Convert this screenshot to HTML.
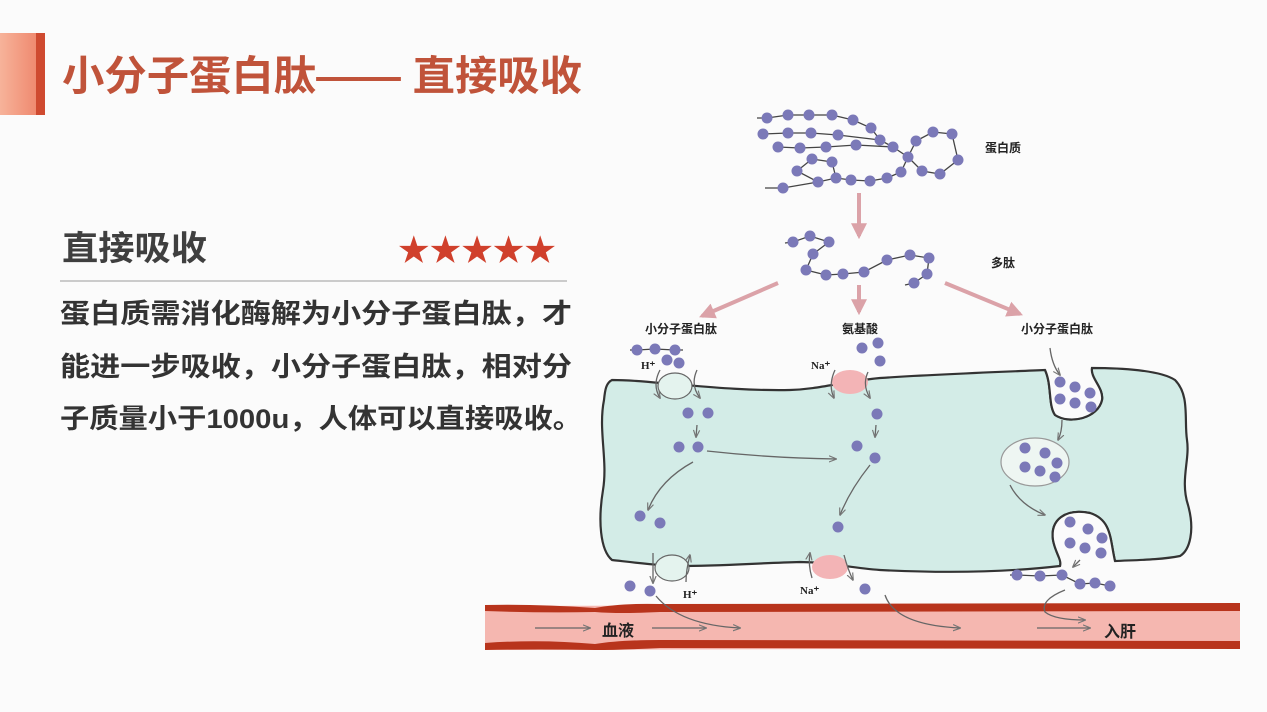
<!DOCTYPE html>
<html><head><meta charset="utf-8"><style>
html,body{margin:0;padding:0;background:#fbfbfb;}
body{width:1267px;height:712px;overflow:hidden;position:relative;font-family:"Liberation Sans","Noto Sans CJK SC",sans-serif;}
</style></head><body>
<svg width="1267" height="712" viewBox="0 0 1267 712" xmlns="http://www.w3.org/2000/svg" style="position:absolute;left:0;top:0">
<defs>
<linearGradient id="lg" x1="0" x2="1"><stop offset="0" stop-color="#f7b39a"/><stop offset="1" stop-color="#ef8a70"/></linearGradient>
<marker id="ag" viewBox="0 0 10 10" refX="9" refY="5" markerWidth="6" markerHeight="6" orient="auto"><path d="M0,1 L10,5 L0,9" fill="none" stroke="#777" stroke-width="1.5"/></marker>
<marker id="ap" viewBox="0 0 10 10" refX="8" refY="5" markerWidth="4" markerHeight="4" orient="auto"><path d="M0,0 L10,5 L0,10 z" fill="#dba2a8"/></marker>
</defs>
<rect x="0" y="33" width="36" height="82" fill="url(#lg)"/>
<rect x="36" y="33" width="9" height="82" fill="#cf4a30"/>
<text x="62" y="90" font-size="41" font-weight="bold" fill="#c0533a" textLength="520" lengthAdjust="spacingAndGlyphs">小分子蛋白肽—— 直接吸收</text>

<text x="62" y="260" font-size="34" font-weight="bold" fill="#3f3f3f" textLength="145" lengthAdjust="spacingAndGlyphs">直接吸收</text>
<text x="398" y="261" font-size="31" fill="#d0402c" textLength="158" lengthAdjust="spacingAndGlyphs">★★★★★</text>
<line x1="60" y1="281" x2="567" y2="281" stroke="#bbb" stroke-width="1.5"/>
<g font-size="27" font-weight="bold" fill="#333">
<text x="60" y="323" textLength="512" lengthAdjust="spacingAndGlyphs">蛋白质需消化酶解为小分子蛋白肽，才</text>
<text x="60" y="376" textLength="512" lengthAdjust="spacingAndGlyphs">能进一步吸收，小分子蛋白肽，相对分</text>
<text x="60" y="428" textLength="522" lengthAdjust="spacingAndGlyphs">子质量小于1000u，人体可以直接吸收。</text>
</g>

<path d="M485,606 L1240,604 L1240,648 L485,650 Z" fill="#f5b7b0"/>
<path d="M485,605 Q540,604 595,608 Q620,603 660,604 L1240,603 L1240,611 L660,612 Q620,614 595,612 Q540,613 485,611 Z" fill="#b8341c"/>
<path d="M485,643 Q540,639 595,644 Q620,640 660,640 L1240,641 L1240,649 L660,648 Q620,650 595,650 Q540,649 485,650 Z" fill="#b8341c"/>

<path d="M612,380 C630,380 650,382 660,383 C690,385 740,391 790,390 C820,389 840,382 880,378 C940,374 1000,372 1045,370 C1052,385 1048,405 1055,415 C1070,425 1098,418 1102,400 C1104,388 1090,378 1092,368 C1120,368 1160,370 1175,380 C1190,395 1184,420 1187,440 C1190,460 1180,480 1188,505 C1195,530 1190,550 1180,556 C1160,560 1135,560 1115,561 C1110,540 1112,520 1090,513 C1065,508 1050,520 1053,540 C1055,552 1062,560 1060,566 C1000,573 940,573 880,570 C850,568 830,562 800,562 C760,563 720,566 680,566 C660,566 630,562 612,560 C600,550 598,520 603,490 C608,460 598,430 604,400 C605,390 606,383 612,380 Z" fill="#d3ece7" stroke="#333" stroke-width="2.2"/>
<ellipse cx="1035" cy="462" rx="34" ry="24" fill="#eef6f2" stroke="#999" stroke-width="1.2"/>
<path d="M1053,540 C1050,520 1065,508 1090,513 C1112,520 1110,540 1115,561 L1060,566 Z" fill="#fbfbfb"/>
<path d="M1055,415 C1070,425 1098,418 1102,400 C1104,388 1090,378 1092,368 L1045,370 C1052,385 1048,405 1055,415Z" fill="#fbfbfb"/>
<path d="M1045,370 C1052,385 1048,405 1055,415 C1070,425 1098,418 1102,400 C1104,388 1090,378 1092,368" fill="none" stroke="#333" stroke-width="2.2"/>
<path d="M1060,566 C1062,560 1055,552 1053,540 C1050,520 1065,508 1090,513 C1112,520 1110,540 1115,561" fill="none" stroke="#333" stroke-width="2.2"/>
<ellipse cx="675" cy="386" rx="17" ry="13" fill="#e4f3ee" stroke="#666" stroke-width="1.2"/>
<ellipse cx="850" cy="382" rx="18" ry="12" fill="#f3b4b6"/>
<ellipse cx="672" cy="568" rx="17" ry="13" fill="#e4f3ee" stroke="#666" stroke-width="1.2"/>
<ellipse cx="830" cy="567" rx="18" ry="12" fill="#f3b4b6"/>
<g fill="none" stroke="#666" stroke-width="1.3">
<path d="M660,370 Q652,385 660,398" marker-end="url(#ag)"/><path d="M697,370 Q690,385 700,398" marker-end="url(#ag)"/>
<path d="M835,370 Q828,385 834,398" marker-end="url(#ag)"/><path d="M868,372 Q862,385 870,398" marker-end="url(#ag)"/>
<path d="M653,553 L653,583" marker-end="url(#ag)"/><path d="M686,582 Q686,570 690,555" marker-end="url(#ag)"/>
<path d="M812,578 Q808,565 810,553" marker-end="url(#ag)"/><path d="M844,555 Q848,570 853,580" marker-end="url(#ag)"/>
<path d="M697,425 L696,437" marker-end="url(#ag)"/><path d="M876,425 L875,437" marker-end="url(#ag)"/>
<path d="M707,451 Q770,458 836,459" marker-end="url(#ag)"/>
<path d="M693,462 Q660,480 648,510" marker-end="url(#ag)"/>
<path d="M870,465 Q850,490 840,515" marker-end="url(#ag)"/>
<path d="M1050,348 Q1052,365 1060,375" marker-end="url(#ag)"/>
<path d="M1062,420 Q1062,432 1058,440" marker-end="url(#ag)"/>
<path d="M1010,485 Q1020,505 1045,515" marker-end="url(#ag)"/>
<path d="M1080,560 L1073,567" marker-end="url(#ag)"/>
<path d="M656,596 Q680,625 740,628" marker-end="url(#ag)"/>
<path d="M885,595 Q895,625 960,628" marker-end="url(#ag)"/>
<path d="M1065,590 Q1040,600 1045,612 Q1055,620 1085,620" marker-end="url(#ag)"/>
<path d="M535,628 L590,628" marker-end="url(#ag)"/><path d="M652,628 L706,628" marker-end="url(#ag)"/>
<path d="M1037,628 L1090,628" marker-end="url(#ag)"/>
</g>
<g stroke="#dba2a8" stroke-width="4" marker-end="url(#ap)">
<line x1="859" y1="193" x2="859" y2="236"/>
<line x1="778" y1="283" x2="702" y2="316"/>
<line x1="859" y1="285" x2="859" y2="312"/>
<line x1="945" y1="283" x2="1020" y2="314"/>
</g>
<g fill="none" stroke="#444" stroke-width="1.3">
<polyline points="757,118 767,118 788,115 809,115 832,115 853,120 871,128 880,140 893,147 908,157 916,141 933,132 952,134 958,160 940,174 922,171 908,157 901,172 887,178 870,181 851,180 836,178 818,182 797,171 812,159 832,162 836,178"/>
<polyline points="763,134 788,133 811,133 838,135 880,140"/>
<polyline points="778,147 800,148 826,147 856,145 893,147"/>
<polyline points="765,188 783,188 818,182"/>
<polyline points="785,243 793,242 810,236 829,242 813,254 806,270 826,275 843,274 864,272 887,260 910,255 929,258 927,274 914,283 905,285"/>
<polyline points="630,350 637,350 655,349 675,350 683,350"/>
<polyline points="1017,575 1040,576 1062,575 1080,584 1095,583 1110,586"/>
<polyline points="1010,575 1017,575"/>
</g>
<g fill="#7b79b8">
<circle cx="767" cy="118" r="5.5"/><circle cx="788" cy="115" r="5.5"/><circle cx="809" cy="115" r="5.5"/><circle cx="832" cy="115" r="5.5"/><circle cx="853" cy="120" r="5.5"/><circle cx="871" cy="128" r="5.5"/>
<circle cx="763" cy="134" r="5.5"/><circle cx="788" cy="133" r="5.5"/><circle cx="811" cy="133" r="5.5"/><circle cx="838" cy="135" r="5.5"/><circle cx="880" cy="140" r="5.5"/>
<circle cx="778" cy="147" r="5.5"/><circle cx="800" cy="148" r="5.5"/><circle cx="826" cy="147" r="5.5"/><circle cx="856" cy="145" r="5.5"/><circle cx="893" cy="147" r="5.5"/>
<circle cx="908" cy="157" r="5.5"/><circle cx="916" cy="141" r="5.5"/><circle cx="933" cy="132" r="5.5"/><circle cx="952" cy="134" r="5.5"/><circle cx="958" cy="160" r="5.5"/><circle cx="940" cy="174" r="5.5"/><circle cx="922" cy="171" r="5.5"/>
<circle cx="797" cy="171" r="5.5"/><circle cx="812" cy="159" r="5.5"/><circle cx="832" cy="162" r="5.5"/><circle cx="836" cy="178" r="5.5"/><circle cx="818" cy="182" r="5.5"/><circle cx="783" cy="188" r="5.5"/><circle cx="851" cy="180" r="5.5"/><circle cx="870" cy="181" r="5.5"/><circle cx="887" cy="178" r="5.5"/><circle cx="901" cy="172" r="5.5"/>
<circle cx="793" cy="242" r="5.5"/><circle cx="810" cy="236" r="5.5"/><circle cx="829" cy="242" r="5.5"/><circle cx="813" cy="254" r="5.5"/><circle cx="806" cy="270" r="5.5"/><circle cx="826" cy="275" r="5.5"/><circle cx="843" cy="274" r="5.5"/><circle cx="864" cy="272" r="5.5"/><circle cx="887" cy="260" r="5.5"/><circle cx="910" cy="255" r="5.5"/><circle cx="929" cy="258" r="5.5"/><circle cx="927" cy="274" r="5.5"/><circle cx="914" cy="283" r="5.5"/>
<circle cx="637" cy="350" r="5.5"/><circle cx="655" cy="349" r="5.5"/><circle cx="675" cy="350" r="5.5"/><circle cx="667" cy="360" r="5.5"/><circle cx="679" cy="363" r="5.5"/>
<circle cx="862" cy="348" r="5.5"/><circle cx="878" cy="343" r="5.5"/><circle cx="880" cy="361" r="5.5"/>
<circle cx="688" cy="413" r="5.5"/><circle cx="708" cy="413" r="5.5"/><circle cx="679" cy="447" r="5.5"/><circle cx="698" cy="447" r="5.5"/><circle cx="640" cy="516" r="5.5"/><circle cx="660" cy="523" r="5.5"/>
<circle cx="877" cy="414" r="5.5"/><circle cx="857" cy="446" r="5.5"/><circle cx="875" cy="458" r="5.5"/><circle cx="838" cy="527" r="5.5"/>
<circle cx="630" cy="586" r="5.5"/><circle cx="650" cy="591" r="5.5"/><circle cx="865" cy="589" r="5.5"/>
<circle cx="1060" cy="382" r="5.5"/><circle cx="1075" cy="387" r="5.5"/><circle cx="1090" cy="393" r="5.5"/><circle cx="1060" cy="399" r="5.5"/><circle cx="1075" cy="403" r="5.5"/><circle cx="1091" cy="407" r="5.5"/>
<circle cx="1025" cy="448" r="5.5"/><circle cx="1045" cy="453" r="5.5"/><circle cx="1057" cy="463" r="5.5"/><circle cx="1025" cy="467" r="5.5"/><circle cx="1040" cy="471" r="5.5"/><circle cx="1055" cy="477" r="5.5"/>
<circle cx="1070" cy="522" r="5.5"/><circle cx="1088" cy="529" r="5.5"/><circle cx="1102" cy="538" r="5.5"/><circle cx="1070" cy="543" r="5.5"/><circle cx="1085" cy="548" r="5.5"/><circle cx="1101" cy="553" r="5.5"/>
<circle cx="1017" cy="575" r="5.5"/><circle cx="1040" cy="576" r="5.5"/><circle cx="1062" cy="575" r="5.5"/><circle cx="1080" cy="584" r="5.5"/><circle cx="1095" cy="583" r="5.5"/><circle cx="1110" cy="586" r="5.5"/>
</g>
<g font-size="12" font-weight="bold" fill="#222" text-anchor="middle">
<text x="681" y="333">小分子蛋白肽</text><text x="860" y="333">氨基酸</text><text x="1057" y="333">小分子蛋白肽</text>
<text x="1003" y="152">蛋白质</text><text x="1003" y="267">多肽</text>
</g>
<g font-size="11" font-weight="bold" fill="#222" font-family="Liberation Serif,serif">
<text x="641" y="369">H⁺</text><text x="811" y="369">Na⁺</text><text x="683" y="598">H⁺</text><text x="800" y="594">Na⁺</text>
</g>
<g font-size="16" font-weight="bold" fill="#222">
<text x="602" y="636">血液</text><text x="1104" y="637">入肝</text>
</g>
</svg>
</body></html>
